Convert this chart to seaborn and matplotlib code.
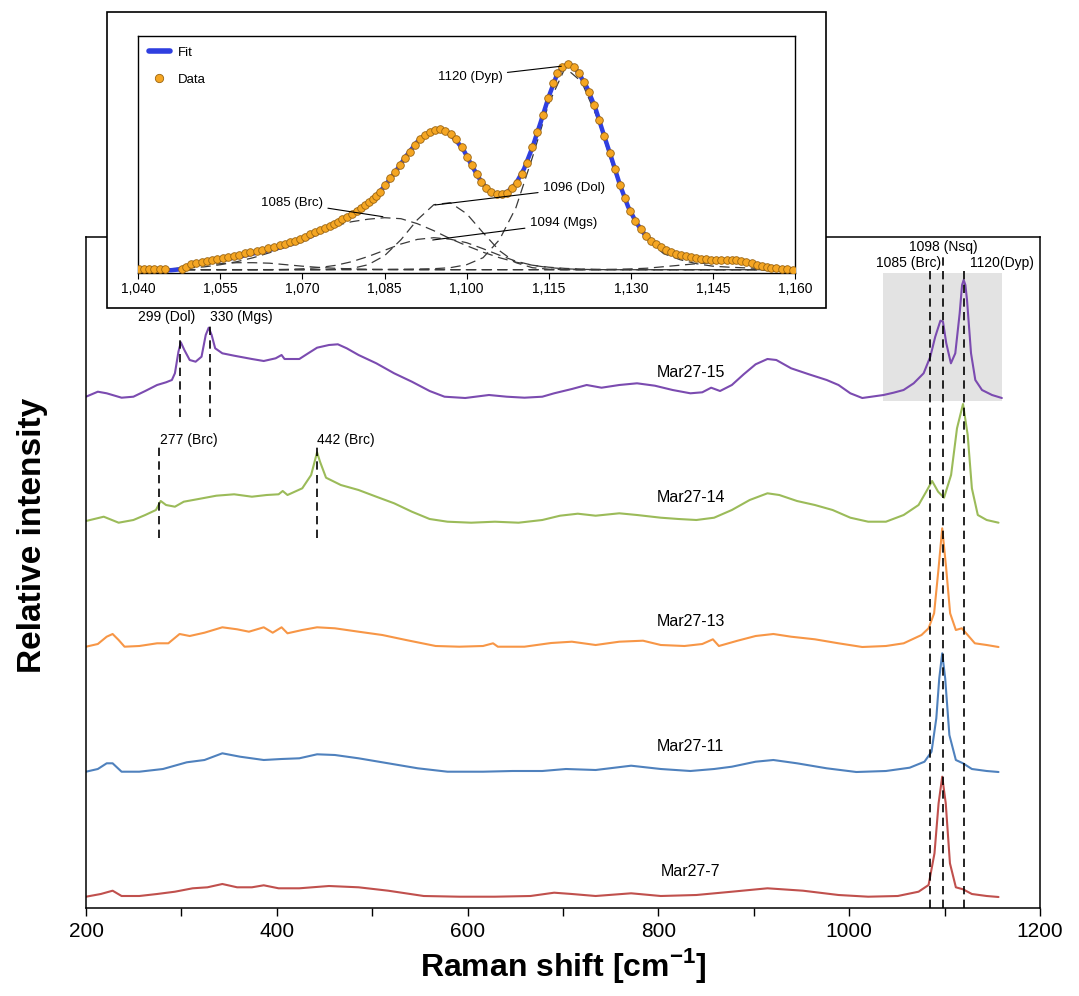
import numpy as np
import pandas as pd
import matplotlib
matplotlib.use("Agg")
import matplotlib.pyplot as plt
import seaborn as sns
from matplotlib.patches import Rectangle
from matplotlib.lines import Line2D
from matplotlib.ticker import MultipleLocator, StrMethodFormatter

# ---------------- main spectra (Raman shift, relative intensity) ----------------
wn_m15 = [200, 212.4, 221.7, 237.3, 249.7, 262.1, 274.5, 283.9, 290, 293.2, 296.9, 299.4, 303.1, 308.7,
          314.9, 321.1, 325.5, 328.6, 331.7, 335.4, 342.9, 355.3, 373.9, 386.3, 398.8, 405, 408.1, 423.6,
          432.9, 442.2, 454.7, 464, 473.3, 485.7, 504.3, 523, 541.6, 560.2, 575.8, 597.5, 622.4, 641,
          659.6, 678.3, 690.7, 709.3, 724.8, 740.4, 759, 777.6, 796.3, 814.9, 833.5, 846, 855.3, 864.6,
          877, 889.4, 901.9, 914.3, 923.6, 939.1, 957.8, 976.4, 988.8, 1001.2, 1013.7, 1036, 1046.5,
          1057, 1067.6, 1078, 1085, 1090.2, 1095.6, 1098.3, 1101.7, 1106.6, 1111.2, 1115.8, 1118.3,
          1120, 1121.8, 1123.5, 1127.7, 1132.2, 1139.2, 1149.7, 1160]
int_m15 = [1.3, 6.3, 4.7, 0.3, 1.3, 7, 13, 15.7, 18, 24.7, 46.3, 55.7, 48, 38, 36.3, 41.3, 63, 70.3, 63,
           49.7, 44.7, 42.3, 39, 37, 39.7, 43, 39, 39, 44.7, 50.3, 53, 53.7, 49.7, 43, 34.7, 24.7, 16.3,
           7, 1.3, 0, 3, 1.3, 0.3, 1.3, 4.7, 9, 13, 10.3, 13, 14.7, 12.3, 8, 4.7, 5.7, 10.3, 7, 13, 23.7,
           33.7, 39, 38, 29.7, 23.7, 18, 13, 4.7, 0, 3, 5.3, 8, 14.7, 24.7, 41.3, 61.3, 77.3, 76.3, 55,
           34.7, 44.7, 84.7, 113, 118, 113, 98, 44.7, 18, 8, 3, 0]

wn_m14 = [200, 218.6, 234.2, 249.7, 262.1, 273.3, 278.3, 283.9, 293.2, 302.5, 318, 336.6, 355.3, 373.9,
          389.4, 401.9, 406.2, 411.2, 426.7, 436, 442.2, 445.3, 451.6, 467.1, 485.7, 504.3, 523, 541.6,
          560.2, 578.9, 603.7, 628.6, 653.4, 678.3, 696.9, 715.5, 734.2, 759, 777.6, 802.5, 821.1,
          839.8, 858.4, 877, 895.7, 914.3, 926.7, 945.3, 964, 982.6, 1001.2, 1019.9, 1038.5, 1057.1,
          1072.7, 1080.7, 1086.9, 1093.2, 1099.4, 1106.8, 1113, 1119.3, 1124.2, 1128.6, 1134.8,
          1144.1, 1156.5]
int_m14 = [2, 6.3, 0.3, 3, 8, 13, 22, 18, 16.3, 21.3, 24, 27.3, 28.7, 26.3, 28, 28.7, 32, 28, 34.7, 48,
           70.7, 61.3, 45.3, 38, 33, 26.3, 19.7, 11.3, 4, 1.3, 0.3, 1.3, 0.3, 3, 7.3, 9.3, 7.3, 9.7, 8,
           5.3, 4, 3, 5.3, 13, 23, 29.7, 28, 22, 18, 13, 5.3, 1.3, 1.3, 8, 18, 31.3, 42, 31.3, 25.3, 48,
           94.7, 119, 88, 34.7, 8, 3, 0.3]

wn_m13 = [200, 212.4, 221.7, 227.9, 234.2, 240.4, 255.9, 274.5, 286.3, 298.1, 308.7, 324.2, 342.9,
          358.4, 370.8, 386.3, 395.7, 405, 411.2, 426.7, 442.2, 460.9, 485.7, 510.6, 535.4, 566.5,
          591.3, 616.1, 626.7, 631.7, 659.6, 687.6, 709.3, 734.2, 759, 783.9, 802.5, 827.3, 846, 857.1,
          863.4, 883, 901.9, 920.5, 939.1, 964, 988.8, 1013.7, 1038.5, 1057.1, 1075.8, 1083.2, 1089,
          1093.5, 1097.5, 1101.5, 1105.8, 1111.8, 1118, 1124.2, 1131.7, 1144.1, 1156.5]
int_m13 = [0.3, 3, 10.3, 13, 7, 0.3, 1, 3.7, 3.7, 13, 11, 14.3, 19.7, 17.7, 15.3, 19.7, 14.3, 19.7,
           13.7, 17, 19.7, 18.7, 15.3, 12, 7, 1, 0.3, 1, 3.7, 0.3, 0.3, 4, 5.3, 2, 5.3, 6.3, 2, 1, 3,
           7.7, 1, 6.3, 11, 13, 10.3, 7.7, 3.7, 0, 1, 3.7, 12, 18.7, 33.7, 77, 118.7, 80.3, 33.7, 17,
           18.7, 12, 3.7, 2, 0]

wn_m11 = [200, 212.4, 221.7, 227.9, 237.3, 255.9, 280.7, 305.6, 324.2, 342.9, 361.5, 386.3, 404.9,
          423.6, 442.2, 460.9, 485.7, 516.8, 547.8, 578.9, 616.1, 647.2, 678.3, 703.1, 734.2, 771.4,
          802.5, 833.5, 858.4, 877, 901.9, 920.5, 945.3, 976.4, 1007.5, 1038.5, 1063.4, 1078.9,
          1086.3, 1091.3, 1094.4, 1097.5, 1100.6, 1105, 1111.8, 1119.3, 1128.6, 1144.1, 1156.5]
int_m11 = [0.3, 3, 8.7, 8.7, 0.3, 0.3, 3, 9.7, 12, 18.7, 15.3, 12, 13, 13.7, 17.7, 17, 13.7, 8.7, 3.7,
           0.3, 0.3, 1, 1, 3, 2, 6.3, 3, 1, 3, 5.3, 10.3, 12, 8.7, 3.7, 0, 1, 4.3, 10.3, 20.3, 53.7,
           93.7, 118.7, 93.7, 37, 12, 8.7, 3, 1, 0]

wn_m7 = [200, 215.5, 227.9, 237.3, 255.9, 274.5, 293.2, 311.8, 327.3, 342.9, 358.4, 373.9, 386.3, 401.9,
         423.6, 454.7, 485.7, 516.8, 554, 591.3, 628.6, 665.9, 690.7, 709.3, 734.2, 771.4, 802.5,
         839.8, 877, 914.3, 951.6, 988.8, 1019.9, 1050.9, 1072.7, 1083.2, 1089.4, 1093.7, 1097.5,
         1101.2, 1105.6, 1111.8, 1119.3, 1128.6, 1144.1, 1156.5]
int_m7 = [0.3, 3, 6.3, 1, 1, 3, 5.3, 8.7, 9.7, 13, 9.7, 9.7, 11.7, 8.7, 8.7, 11, 9.7, 6.3, 1, 0.3,
          0.3, 1, 4.3, 3, 1, 3.7, 1, 2, 5.3, 8.7, 6.3, 2, 0.3, 1, 5.3, 12, 43.7, 93.7, 120.3, 93.7,
          33.7, 9.7, 7.7, 3, 1, 0]

samples = ["Mar27-15", "Mar27-14", "Mar27-13", "Mar27-11", "Mar27-7"]
sample_wn = [wn_m15, wn_m14, wn_m13, wn_m11, wn_m7]
sample_int = [int_m15, int_m14, int_m13, int_m11, int_m7]
sample_offsets = [510, 385, 261, 136, 11]
sample_colors = ["#7b4bb0", "#9bbb59", "#f79646", "#4f81bd", "#c0504d"]

# peak markers (wavenumber, label)
top_marks = [1085, 1098, 1120]
top_labels = ["1085 (Brc)", "1098 (Nsq)", "1120(Dyp)"]
m15_marks = [299, 330]
m15_labels = ["299 (Dol)", "330 (Mgs)"]
m14_marks = [277, 442]
m14_labels = ["277 (Brc)", "442 (Brc)"]

# ---------------- inset: peak fit 1040-1160 ----------------
inset_x = [1040.2, 1041.1, 1042.0, 1042.9, 1043.9, 1044.8, 1047.9, 1048.8, 1049.7, 1050.6, 1051.6, 1052.5,
           1053.4, 1054.4, 1055.4, 1056.4, 1057.4, 1058.4, 1059.5, 1060.5, 1061.6, 1062.6, 1063.7, 1064.8,
           1065.9, 1066.8, 1067.7, 1068.6, 1069.5, 1070.5, 1071.4, 1072.3, 1073.2, 1074.1, 1075.0, 1075.8,
           1076.5, 1077.3, 1078.1, 1079.0, 1079.9, 1080.7, 1081.4, 1082.2, 1082.9, 1083.5, 1084.1, 1085.1,
           1086.0, 1086.9, 1087.8, 1088.7, 1089.6, 1090.5, 1091.4, 1092.4, 1093.3, 1094.2, 1095.1, 1096.0,
           1097.1, 1098.0, 1099.1, 1100.0, 1100.9, 1101.8, 1102.7, 1103.6, 1104.5, 1105.5, 1106.4, 1107.3,
           1108.3, 1109.2, 1110.1, 1111.1, 1112.0, 1112.9, 1114.0, 1114.9, 1115.8, 1116.6, 1117.5, 1118.5,
           1119.6, 1120.5, 1121.4, 1122.4, 1123.3, 1124.2, 1125.1, 1126.2, 1127.1, 1128.0, 1128.9, 1129.9,
           1130.8, 1131.8, 1132.7, 1133.6, 1134.6, 1135.5, 1136.4, 1137.3, 1138.2, 1139.2, 1140.1, 1141.0,
           1141.9, 1142.9, 1143.8, 1144.7, 1145.6, 1146.5, 1147.5, 1148.4, 1149.3, 1150.2, 1151.1, 1152.1,
           1153.0, 1153.9, 1154.8, 1155.7, 1156.6, 1157.6, 1158.5, 1159.7]
inset_y = [3.4, 3.4, 3.4, 3.4, 3.4, 3.4, 4.0, 6.0, 8.4, 9.8, 11.0, 11.9, 12.7, 13.7, 14.7, 15.7, 16.7,
           18.0, 19.4, 20.7, 22.0, 23.2, 24.4, 26.0, 27.7, 29.2, 30.7, 32.2, 33.7, 36.2, 38.7, 40.7, 42.7,
           44.7, 46.7, 48.9, 51.0, 53.5, 56.0, 59.0, 62.0, 65.0, 67.7, 70.5, 73.4, 77.0, 81.0, 87.7, 94.4,
           101.0, 107.7, 114.4, 121.0, 127.7, 133.4, 137.7, 141.0, 142.7, 143.4, 142.0, 138.7, 133.4,
           126.0, 116.0, 107.7, 98.7, 91.0, 84.4, 80.4, 78.7, 78.4, 80.0, 84.4, 90.0, 98.7, 110.0, 125.4,
           141.0, 157.7, 174.4, 189.4, 200.0, 206.0, 208.4, 206.0, 199.4, 191.0, 181.0, 167.7, 152.7,
           136.7, 119.4, 103.4, 87.7, 74.4, 61.7, 52.0, 43.4, 37.0, 32.0, 28.4, 25.4, 22.7, 20.7, 19.0,
           17.7, 16.7, 15.7, 14.7, 14.0, 13.4, 12.7, 12.4, 12.4, 12.4, 12.4, 12.4, 12.0, 11.0, 9.4, 7.7,
           6.7, 5.7, 5.0, 4.4, 4.0, 3.4, 2.7]

fit_x = [1040, 1042, 1044, 1046, 1047.5, 1049, 1051, 1053, 1055, 1057, 1059, 1061, 1063, 1065, 1067, 1069,
         1071, 1073, 1075, 1077, 1079, 1081, 1083, 1085, 1087, 1089, 1091, 1092.5, 1094, 1095.2, 1096.5,
         1098, 1099.5, 1101, 1102.5, 1104, 1105.5, 1106.5, 1107.5, 1109, 1110.5, 1112, 1113.5, 1115,
         1116.5, 1117.5, 1118.5, 1119.5, 1120.5, 1122, 1123.5, 1125, 1126.5, 1128, 1129.5, 1131, 1132.5,
         1134, 1135.5, 1137, 1139, 1141, 1143, 1145, 1148, 1150, 1152, 1154, 1156, 1158, 1160]
fit_y = [2.7, 2.7, 2.5, 2.5, 3.3, 6.0, 9.0, 11.0, 12.6, 14.5, 16.8, 19.2, 21.6, 24.2, 27.0, 30.5, 35.0,
         40.5, 45.5, 51.5, 58.5, 66.0, 74.0, 86.5, 101.0, 117.0, 131.0, 138.0, 142.2, 143.2, 140.5, 133.0,
         122.0, 106.5, 92.5, 82.0, 78.5, 78.5, 81.0, 89.0, 104.0, 125.0, 150.0, 176.0, 198.0, 205.5,
         208.5, 206.5, 199.5, 185.0, 165.0, 139.0, 114.0, 88.0, 66.0, 50.0, 38.5, 30.5, 25.5, 21.5, 18.0,
         15.8, 14.0, 12.8, 12.4, 12.0, 9.6, 6.6, 4.8, 3.8, 2.7]

comp_x = list(range(1040, 1161, 3))
comp_brc = [0.3, 0.5, 1, 1.8, 2.8, 5, 8, 12, 17, 23, 30, 37.5, 44, 48, 50.5, 52, 51, 46, 39, 31, 24, 17.5,
            12, 7.5, 4.5, 2.5, 1.3, 0.7, 0.4, 0.2, 0.1, 0.1, 0, 0, 0, 0, 0, 0, 0, 0, 0]
comp_bg = [0, 0, 0.3, 3, 5, 6, 7, 7, 6.5, 5, 3.5, 2.3, 1.4, 0.8, 0.4, 0.2, 0.1, 0, 0, 0, 0, 0, 0, 0, 0,
           0, 0, 0, 0, 0, 0, 0, 0, 0, 0, 0, 0, 0, 0, 0, 0]
comp_mgs = [0, 0, 0, 0, 0, 0, 0, 0, 0, 0.2, 0.9, 2.1, 4.3, 8, 13.2, 19.4, 25.7, 30.3, 32, 30.5, 27, 21,
            14.5, 8.5, 4.5, 2.1, 0.9, 0.3, 0.1, 0, 0, 0, 0, 0, 0, 0, 0, 0, 0, 0, 0]
comp_dol = [0, 0, 0, 0, 0, 0, 0, 0, 0, 0, 0, 0, 0.3, 1.2, 5, 14, 30, 50, 65, 67, 56, 37, 19, 7, 2, 0.5,
            0.1, 0, 0, 0, 0, 0, 0, 0, 0, 0, 0, 0, 0, 0, 0]
comp_dyp = [0.1, 0.1, 0.1, 0.1, 0.1, 0.1, 0.1, 0.1, 0.1, 0.2, 0.2, 0.2, 0.2, 0.2, 0.2, 0.3, 0.5, 0.7, 1,
            2, 5, 12, 30, 62, 112, 166, 202, 188, 150, 98, 55, 30, 16, 10, 6, 3.5, 2.5, 1.8, 1.2, 0.8, 0.6]
comp_1148 = [0, 0, 0, 0, 0, 0, 0, 0, 0, 0, 0, 0, 0, 0, 0, 0, 0, 0, 0, 0, 0, 0, 0, 0, 0, 0, 0, 0, 0, 0.3,
             0.8, 1.5, 3, 4.5, 6, 7, 7.5, 6, 2.5, 0.8, 0.3]
inset_baseline = 3.0
inset_ticks = [1040, 1055, 1070, 1085, 1100, 1115, 1130, 1145, 1160]
inset_notes = [("1120 (Dyp)", 1117.3, 206.5, 1106.6, 196, "right"),
               ("1096 (Dol)", 1094.2, 67.7, 1113.9, 84.4, "left"),
               ("1094 (Mgs)", 1093.8, 32.7, 1111.5, 49.4, "left"),
               ("1085 (Brc)", 1084.7, 56.0, 1073.8, 70.0, "right")]

# ---------------- style ----------------
sns.set_theme(style="white")
plt.rcParams["font.family"] = ["Liberation Sans", "DejaVu Sans"]
plt.rcParams["mathtext.fontset"] = "custom"
plt.rcParams["mathtext.rm"] = "Liberation Sans"
plt.rcParams["mathtext.bf"] = "Liberation Sans:bold"
for k in ["text.color", "axes.labelcolor", "xtick.color", "ytick.color", "axes.edgecolor"]:
    plt.rcParams[k] = "black"

W, H = 1079, 996
fig = plt.figure(figsize=(W / 100, H / 100), dpi=100)
ax = fig.add_axes([86 / W, 88 / H, 954 / W, 671 / H])

rows = []
for name, wn, it, off in zip(samples, sample_wn, sample_int, sample_offsets):
    for w, v in zip(wn, it):
        rows.append((name, w, v + off))
df = pd.DataFrame(rows, columns=["sample", "wn", "y"])

# grey highlight box behind Mar27-15 doublet
ax.add_patch(Rectangle((1035, 507), 125, 128, facecolor="#e3e3e3", edgecolor="none", zorder=0.5))

sns.lineplot(data=df, x="wn", y="y", hue="sample", hue_order=samples,
             palette=dict(zip(samples, sample_colors)), estimator=None, sort=False,
             legend=False, lw=1.5, ax=ax, zorder=2)

for name, off in zip(samples, sample_offsets):
    ax.text(834, off + 25.5, name, ha="center", va="center", fontsize=11.5, zorder=4)

dash = dict(color="black", lw=1.2, dashes=(5, 3.2), zorder=3)
tops = [641, 653, 640]
for w, t in zip(top_marks, tops):
    ax.plot([w, w], [0, t], **dash)
ax.text(1062.2, 644.7, top_labels[0], ha="center", va="center", fontsize=10)
ax.text(1098.2, 661.3, top_labels[1], ha="center", va="center", fontsize=10)
ax.text(1160.2, 644.7, top_labels[2], ha="center", va="center", fontsize=10)

for w in m15_marks:
    ax.plot([w, w], [491, 584], **dash)
ax.text(284.2, 591.3, m15_labels[0], ha="center", va="center", fontsize=10)
ax.text(362.6, 591.3, m15_labels[1], ha="center", va="center", fontsize=10)
for w in m14_marks:
    ax.plot([w, w], [370, 463], **dash)
ax.text(307.4, 468, m14_labels[0], ha="center", va="center", fontsize=10)
ax.text(472.7, 468, m14_labels[1], ha="center", va="center", fontsize=10)

ax.set_xlim(200, 1200)
ax.set_ylim(0, 671)
ax.set_xticks(range(200, 1201, 200))
ax.xaxis.set_minor_locator(MultipleLocator(100))
ax.set_yticks([])
ax.tick_params(axis="x", which="both", direction="out", length=6, width=1.0, bottom=True,
               labelsize=15, pad=4)
for s in ax.spines.values():
    s.set_color("black")
    s.set_linewidth(1.1)
ax.set_xlabel(r"Raman shift [cm$^{\mathbf{-1}}$]", fontsize=23, fontweight="bold", labelpad=4)
ax.set_ylabel("Relative intensity", fontsize=24, fontweight="bold")
ax.yaxis.set_label_coords(-0.04, 0.556)

# ---------------- inset ----------------
frame = Rectangle((107 / W, (H - 308) / H), 719 / W, 296 / H, transform=fig.transFigure,
                  facecolor="white", edgecolor="black", lw=1.2, zorder=1)
fig.add_artist(frame)

ins = fig.add_axes([138.3 / W, (H - 272.7) / H, 656.7 / W, 236.7 / H])
ins.set_zorder(2)
ins.set_facecolor("white")

comp_style = dict(color="#3a3a3a", lw=0.9, dashes=(8, 4.5), zorder=2)
for comp in [comp_bg, comp_brc, comp_mgs, comp_dol, comp_dyp, comp_1148]:
    ins.plot(comp_x, np.array(comp) + inset_baseline, **comp_style)

fit_df = pd.DataFrame({"x": fit_x, "y": fit_y})
sns.lineplot(data=fit_df, x="x", y="y", color="#2f3fe0", lw=3.2, estimator=None, sort=False,
             ax=ins, zorder=3)
dat_df = pd.DataFrame({"x": inset_x, "y": inset_y})
sns.scatterplot(data=dat_df, x="x", y="y", color="#f5a623", edgecolor="#9a6410", linewidth=0.6,
                s=30, ax=ins, zorder=4)

for txt, xp, yp, xt, yt, ha in inset_notes:
    ins.annotate(txt, xy=(xp, yp), xytext=(xt, yt), ha=ha, va="center", fontsize=9.5,
                 arrowprops=dict(arrowstyle="-", color="black", lw=0.8, shrinkA=1, shrinkB=0),
                 zorder=5)

handles = [Line2D([], [], color="#2f3fe0", lw=4),
           Line2D([], [], ls="none", marker="o", markersize=6, markerfacecolor="#f5a623",
                  markeredgecolor="#9a6410", markeredgewidth=0.6)]
ins.legend(handles, ["Fit", "Data"], loc="upper left", frameon=False, fontsize=9.5,
           handlelength=1.6, labelspacing=1.1, borderaxespad=0.4, handletextpad=0.6)

ins.set_xlim(1040, 1160)
ins.set_ylim(0, 236.7)
ins.set_xticks(inset_ticks)
ins.xaxis.set_major_formatter(StrMethodFormatter("{x:,.0f}"))
ins.set_yticks([])
ins.tick_params(axis="x", direction="out", length=4, width=0.8, bottom=True, labelsize=10, pad=3)
ins.set_xlabel("")
ins.set_ylabel("")
for s in ins.spines.values():
    s.set_color("black")
    s.set_linewidth(1.0)

fig.savefig("out.png", dpi=100)
